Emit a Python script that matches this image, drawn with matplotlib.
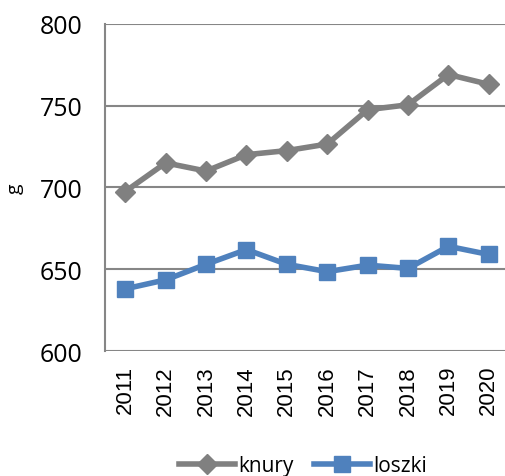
import matplotlib.pyplot as plt

years = ['2011', '2012', '2013', '2014', '2015', '2016', '2017', '2018', '2019', '2020']
knury = [697.5, 715, 710, 720, 722.5, 726.5, 747.5, 750.5, 769, 763]
loszki = [638, 643.5, 653, 662, 653, 648.5, 652.5, 650.5, 664, 659]

plt.rcParams['font.family'] = ['Open Sans', 'DejaVu Sans']

fig = plt.figure(figsize=(5.05, 4.77), dpi=100)
ax = fig.add_axes([0.208, 0.262, 0.80, 0.686])

x = range(len(years))
ax.plot(x, knury, color='#808080', lw=4, marker='D', ms=10, label='knury')
ax.plot(x, loszki, color='#4f81bd', lw=4, marker='s', ms=12, label='loszki')

ax.set_ylim(600, 800)
ax.set_yticks([600, 650, 700, 750, 800])
ax.set_xlim(-0.5, len(years) - 0.5)
ax.set_xticks(list(x))
ax.set_xticklabels(years, rotation=90, fontsize=16, family='Liberation Sans')
ax.tick_params(axis='y', labelsize=18, length=0, pad=16)
ax.tick_params(axis='x', length=0, pad=10)
ax.set_ylabel('g', fontsize=14, labelpad=12)

ax.grid(axis='y', color='#868686', lw=1.5)
ax.set_axisbelow(True)
for s in ['top', 'right', 'bottom']:
    ax.spines[s].set_visible(False)
ax.spines['left'].set_color('#868686')
ax.spines['left'].set_linewidth(1.5)

fig.legend(loc='lower center', bbox_to_anchor=(0.6, -0.04), ncol=2, frameon=False,
           fontsize=15, handlelength=2.7, columnspacing=1.0, handletextpad=0.15)

fig.savefig('out.png', dpi=100)
